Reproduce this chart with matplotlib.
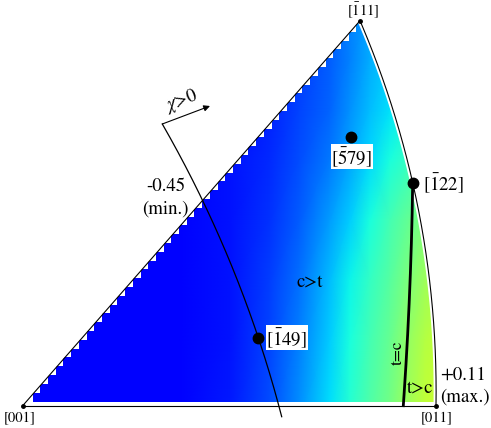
import numpy as np
import matplotlib
matplotlib.use('Agg')
import matplotlib.pyplot as plt
from matplotlib.patches import Polygon
from matplotlib.colors import ListedColormap

plt.rcParams['font.family'] = ['STIXGeneral', 'DejaVu Sans']
plt.rcParams['mathtext.fontset'] = 'stix'

# ---------------- data (figure coordinates of the poles) ----
corner_labels = ['[001]', '[011]', r'$[\bar{1}11]$']
corner_x = [22.7, 436.0, 360.0]
corner_y = [405.7, 405.7, 20.7]

pole_labels = [r'$[\bar{1}22]$', r'$[\bar{5}79]$', r'$[\bar{1}49]$']
pole_x = [412.7, 351.0, 258.3]
pole_y = [182.7, 136.7, 337.7]

chi_x = [162.3, 258.3, 281.7]      # chi = 0 trace (start, through [-149], end)
chi_y = [124.0, 337.7, 416.7]
tc_x = [412.7, 409.3, 403.3]       # t = c boundary
tc_y = [182.7, 300.0, 405.7]

vmin, vmax = -0.45, 0.11
field_x = [15, 100, 180, 230, 270, 300, 330, 350, 370, 390, 410, 425, 445]
field_y = [10, 60, 110, 160, 220, 280, 340, 410]
field_v = [
    [-0.45, -0.45, -0.45, -0.45, -0.41, -0.38, -0.34, -0.30, -0.26, -0.22, -0.18, -0.15, -0.11],
    [-0.45, -0.45, -0.45, -0.45, -0.41, -0.38, -0.34, -0.30, -0.25, -0.21, -0.17, -0.14, -0.10],
    [-0.45, -0.45, -0.45, -0.44, -0.41, -0.37, -0.33, -0.28, -0.23, -0.19, -0.15, -0.12, -0.08],
    [-0.45, -0.45, -0.45, -0.43, -0.40, -0.36, -0.31, -0.26, -0.20, -0.15, -0.10, -0.06, -0.03],
    [-0.45, -0.45, -0.45, -0.43, -0.39, -0.34, -0.27, -0.21, -0.15, -0.09, -0.04, 0.00, 0.03],
    [-0.45, -0.45, -0.45, -0.43, -0.38, -0.32, -0.23, -0.17, -0.11, -0.06, 0.00, 0.04, 0.07],
    [-0.45, -0.45, -0.45, -0.43, -0.37, -0.30, -0.21, -0.15, -0.09, -0.04, 0.03, 0.07, 0.10],
    [-0.45, -0.45, -0.45, -0.42, -0.36, -0.28, -0.19, -0.13, -0.07, -0.02, 0.05, 0.09, 0.11],
]

# ---------------- helpers ----------------
def circle3(xs, ys):
    (x1, x2, x3), (y1, y2, y3) = xs, ys
    A = np.array([[x2 - x1, y2 - y1], [x3 - x1, y3 - y1]], float)
    b = 0.5 * np.array([x2**2 - x1**2 + y2**2 - y1**2,
                        x3**2 - x1**2 + y3**2 - y1**2])
    cx, cy = np.linalg.solve(A, b)
    return cx, cy, np.hypot(x1 - cx, y1 - cy)

def arc(xs, ys, n=200):
    cx, cy, r = circle3(xs, ys)
    a0 = np.arctan2(ys[0] - cy, xs[0] - cx)
    a1 = np.arctan2(ys[-1] - cy, xs[-1] - cx)
    t = np.linspace(a0, a1, n)
    return cx + r * np.cos(t), cy + r * np.sin(t)

fig = plt.figure(figsize=(4.91, 4.28), dpi=100)
ax = fig.add_axes([0, 0, 1, 1])
ax.set_xlim(0, 491)
ax.set_ylim(428, 0)
ax.axis('off')

cmap = ListedColormap(plt.get_cmap('jet')(np.linspace(0.125, 0.6, 256)))

# colour field
X, Y = np.meshgrid(field_x, field_y)
mesh = ax.pcolormesh(X, Y, np.array(field_v), shading='gouraud', cmap=cmap,
                     vmin=vmin, vmax=vmax, zorder=1)

# staircase clip along the [001]-[-111] edge
slope = (corner_x[2] - corner_x[0]) / (corner_y[0] - corner_y[2])

def xline(y):
    return corner_x[0] + (corner_y[0] - y) * slope

y_bot, dy, d = 401.5, 8.8, 1.5
pts = []
y = y_bot
while y > corner_y[2] + 2:
    yt = y - dy
    xl = xline(yt) - d
    yc = yt + d / slope
    pts += [(xl, y), (xl, yc), (xline(yt), yt)]
    y = yt
pts += [(600, y), (600, y_bot)]
clip = Polygon(pts, closed=True, transform=ax.transData, fc='none', ec='none')
ax.add_patch(clip)
mesh.set_clip_path(clip)

# white mask outside the (slightly inset) right arc
arc_x_pts = [corner_x[1], pole_x[0], corner_x[2]]
arc_y_pts = [corner_y[1], pole_y[0], corner_y[2]]
cx, cy, r = circle3(arc_x_pts, arc_y_pts)
rin = r - 2.5
yy = np.linspace(-20, 450, 300)
xx = cx + np.sqrt(np.clip(rin**2 - (yy - cy)**2, 0, None))
mask_pts = list(zip(xx, yy)) + [(700, 450), (700, -20)]
ax.add_patch(Polygon(mask_pts, closed=True, fc='white', ec='none', zorder=2))

# outline
lk = dict(color='black', lw=0.8, zorder=4)
ax.plot([corner_x[0], corner_x[1]], [corner_y[0], corner_y[1]], **lk)
ax.plot([corner_x[0], corner_x[2]], [corner_y[0], corner_y[2]], **lk)
ax_, ay_ = arc(arc_x_pts, arc_y_pts)
ax.plot(ax_, ay_, **lk)
ax.plot(corner_x, corner_y, 'o', color='black', ms=2.5, zorder=5)

# chi = 0 trace and arrow
cx_, cy_ = arc(chi_x, chi_y)
ax.plot(cx_, cy_, color='black', lw=0.9, zorder=4)
ax.annotate('', xy=(210, 106), xytext=(chi_x[0], chi_y[0]),
            arrowprops=dict(arrowstyle='-|>', lw=0.8, color='black',
                            mutation_scale=9, shrinkA=0, shrinkB=0), zorder=5)
ax.text(181, 101, r'$\chi$>0', fontsize=13.5, rotation=21, ha='center', va='center', zorder=6)

# t = c boundary
tx_, ty_ = arc(tc_x, tc_y)
ax.plot(tx_, ty_, color='black', lw=2.0, zorder=4)

# poles
ax.plot(pole_x, pole_y, 'o', color='black', ms=7.5, zorder=5)

# labels
ax.text(corner_x[0] - 3, corner_y[0] + 12, corner_labels[0], fontsize=10.5, ha='center', va='center')
ax.text(corner_x[1] + 1, corner_y[1] + 12, corner_labels[1], fontsize=10.5, ha='center', va='center')
ax.text(corner_x[2] + 3, corner_y[2] - 10, corner_labels[2], fontsize=10.5, ha='center', va='center')

box = dict(facecolor='white', edgecolor='none', pad=0.5)
ax.text(pole_x[0] + 10, pole_y[0], pole_labels[0], fontsize=13.5, ha='left', va='center', zorder=6)
ax.text(pole_x[1] + 0.7, pole_y[1] + 20, pole_labels[1], fontsize=13.5, ha='center', va='center',
        bbox=box, zorder=6)
ax.text(pole_x[2] + 28.5, pole_y[2], pole_labels[2], fontsize=13.5, ha='center', va='center',
        bbox=box, zorder=6)

ax.text(310, 282, 'c>t', fontsize=13.5, ha='center', va='center', zorder=6)
ax.text(397.5, 353, 't=c', fontsize=12.5, rotation=90, ha='center', va='center', zorder=6)
ax.text(420, 388, 't>c', fontsize=13.5, ha='center', va='center', zorder=6)
ax.text(463.5, 375.5, '+0.11', fontsize=13.5, ha='center', va='center', zorder=6)
ax.text(464.5, 397, '(max.)', fontsize=13.5, ha='center', va='center', zorder=6)
ax.text(165.5, 186, '-0.45', fontsize=13.5, ha='center', va='center', zorder=6)
ax.text(165.5, 209, '(min.)', fontsize=13.5, ha='center', va='center', zorder=6)

fig.savefig('out.png', dpi=100)
